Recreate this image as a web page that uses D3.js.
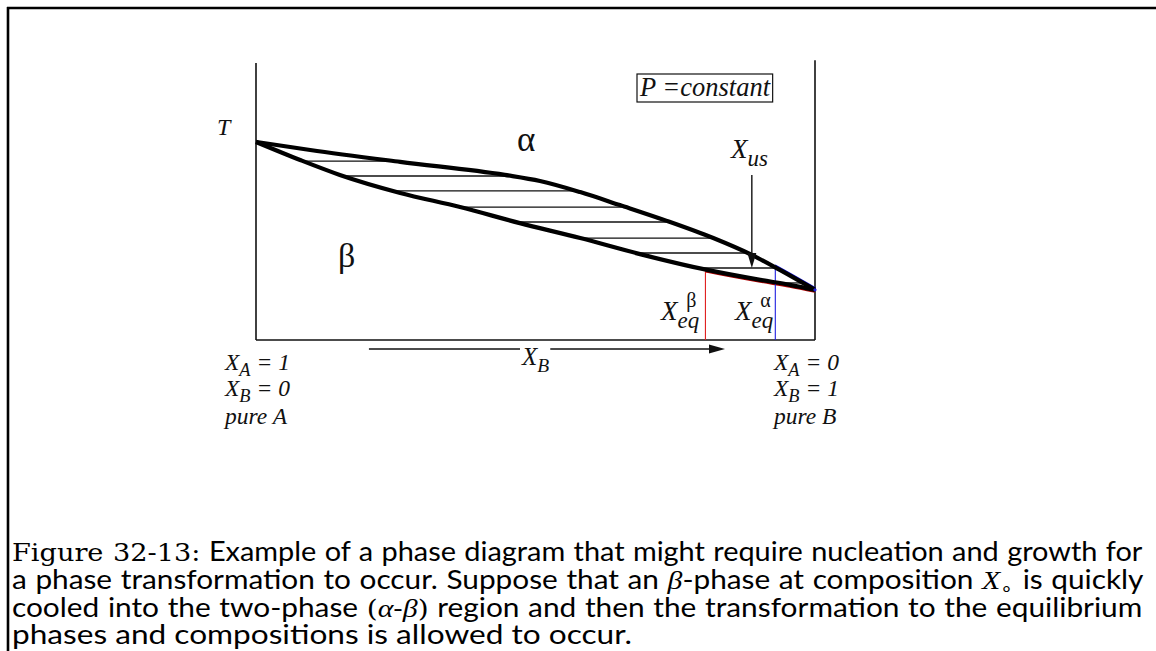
<!DOCTYPE html>
<html>
<head>
<meta charset="utf-8">
<script src="https://cdn.jsdelivr.net/npm/d3@7"></script>
<style>
  html, body { margin: 0; padding: 0; background: #fff; }
  svg { display: block; }
</style>
</head>
<body>
<svg id="fig" width="1156" height="651"></svg>
<script>
// ---- Phase diagram data: composition X_B (0 = pure A, 1 = pure B) vs temperature T (relative units) ----
const alphaBoundaryXB = [0, 0.097, 0.258, 0.445, 0.508, 0.580, 0.651, 0.735, 0.818, 0.887, 0.937, 1];
const alphaBoundaryT  = [71.5, 68.6, 64.3, 59.6, 57.4, 53.4, 48.7, 43.0, 36.8, 30.7, 25.3, 18.1];
const betaBoundaryXB  = [0, 0.079, 0.150, 0.258, 0.365, 0.472, 0.580, 0.687, 0.807, 0.902, 0.955, 1];
const betaBoundaryT   = [71.5, 65.0, 59.6, 53.1, 48.0, 42.2, 36.8, 31.0, 25.3, 21.7, 19.9, 18.1];

// Tie lines across the two-phase field
const tieLineT = [64.6, 59.2, 53.8, 48.0, 42.6, 36.8, 31.4, 26.0, 20.6];

// Quench composition and the equilibrium compositions at the quench temperature
const xUs = 0.887;
const xUsArrowFromT = 59.6;
const quenchT = 26.0;
const xEqBeta = 0.804;
const xEqAlpha = 0.929;

// Composition arrow along the X_B axis
const xbArrowFrom = 0.202;
const xbArrowTo = 0.839;

// End-member labels
const leftEndLabels  = [["X", "A", " = 1"], ["X", "B", " = 0"], ["pure A", "", ""]];
const rightEndLabels = [["X", "A", " = 0"], ["X", "B", " = 1"], ["pure B", "", ""]];

// Caption lines (segments: [text, style])
const captionLines = [
  [["Figure 32-13:", "rm"], [" Example of a phase diagram that might require nucleation and growth for", "sf"]],
  [["a phase transformation to occur. Suppose that an ", "sf"], ["β", "mi"], ["-phase at composition ", "sf"], ["X", "mi"], ["∘", "sub"], [" is quickly", "sf"]],
  [["cooled into the two-phase ", "sf"], ["(", "rm"], ["α", "mi"], ["-", "rm"], ["β", "mi"], [")", "rm"], [" region and then the transformation to the equilibrium", "sf"]],
  [["phases and compositions is allowed to occur.", "sf"]]
];

// ---- Drawing ----
const W = 1156, H = 651;
const svg = d3.select("#fig");
const serif = "'Liberation Serif', 'Times New Roman', serif";
const romanWide = "'DejaVu Serif', 'Liberation Serif', serif";
const sans = "Lato, 'Open Sans', 'DejaVu Sans', sans-serif";

const x = d3.scaleLinear().domain([0, 1]).range([256, 815]);
const y = d3.scaleLinear().domain([0, 100]).range([340, 63]);

// Page frame
svg.append("line").attr("x1", 7).attr("x2", W).attr("y1", 8).attr("y2", 8)
  .attr("stroke", "#000").attr("stroke-width", 2.6);
svg.append("line").attr("x1", 8).attr("x2", 8).attr("y1", 7).attr("y2", H)
  .attr("stroke", "#000").attr("stroke-width", 2.6);

// Diagram box (left, right, bottom)
const axes = svg.append("g").attr("stroke", "#111").attr("stroke-width", 1.6).attr("fill", "none");
axes.append("line").attr("x1", x(0)).attr("x2", x(0)).attr("y1", y(0)).attr("y2", y(100));
axes.append("line").attr("x1", x(1)).attr("x2", x(1)).attr("y1", y(0)).attr("y2", y(101));
axes.append("line").attr("x1", x(0)).attr("x2", x(1)).attr("y1", y(0)).attr("y2", y(0));

const alphaPts = alphaBoundaryXB.map((v, i) => [v, alphaBoundaryT[i]]);
const betaPts = betaBoundaryXB.map((v, i) => [v, betaBoundaryT[i]]);
const lineGen = d3.line().x(d => x(d[0])).y(d => y(d[1])).curve(d3.curveMonotoneX);

// Sample a path to find its x at a given pixel y
function sampler(pathNode) {
  const L = pathNode.getTotalLength();
  const pts = [];
  for (let s = 0; s <= L; s += 0.5) pts.push(pathNode.getPointAtLength(s));
  return function (py) {
    for (let i = 1; i < pts.length; i++) {
      const a = pts[i - 1], b = pts[i];
      if ((a.y - py) * (b.y - py) <= 0 && a.y !== b.y) {
        return a.x + (py - a.y) / (b.y - a.y) * (b.x - a.x);
      }
    }
    return null;
  };
}

// Coloured rims near the B-rich end (drawn under the black boundaries)
const defs = svg.append("defs");
defs.append("clipPath").attr("id", "clipBeta").append("rect")
  .attr("x", x(xEqBeta)).attr("y", 0).attr("width", x(1) - x(xEqBeta) + 4).attr("height", H);
defs.append("clipPath").attr("id", "clipAlpha").append("rect")
  .attr("x", x(xEqAlpha)).attr("y", 0).attr("width", x(1) - x(xEqAlpha) + 4).attr("height", H);
svg.append("path").attr("d", lineGen(betaPts)).attr("fill", "none")
  .attr("stroke", "#b00000").attr("stroke-width", 3).attr("transform", "translate(0,1.4)")
  .attr("clip-path", "url(#clipBeta)");
svg.append("path").attr("d", lineGen(alphaPts)).attr("fill", "none")
  .attr("stroke", "#1010d0").attr("stroke-width", 3).attr("transform", "translate(0,-1.4)")
  .attr("clip-path", "url(#clipAlpha)");

// Tie lines, between the two boundaries
const alphaPath = svg.append("path").attr("d", lineGen(alphaPts)).attr("fill", "none")
  .attr("stroke", "none");
const betaPath = svg.append("path").attr("d", lineGen(betaPts)).attr("fill", "none")
  .attr("stroke", "none");
const onAlpha = sampler(alphaPath.node());
const onBeta = sampler(betaPath.node());
svg.append("g").selectAll("line").data(tieLineT).join("line")
  .attr("x1", d => onBeta(y(d))).attr("x2", d => onAlpha(y(d)))
  .attr("y1", d => y(d)).attr("y2", d => y(d))
  .attr("stroke", "#111").attr("stroke-width", 1.3);

// Equilibrium composition markers
svg.append("line").attr("x1", x(xEqBeta)).attr("x2", x(xEqBeta))
  .attr("y1", y(quenchT)).attr("y2", y(0))
  .attr("stroke", "#e02020").attr("stroke-width", 1.1);
svg.append("line").attr("x1", x(xEqAlpha)).attr("x2", x(xEqAlpha))
  .attr("y1", y(quenchT)).attr("y2", y(0))
  .attr("stroke", "#2020e0").attr("stroke-width", 1.1);

// Phase boundaries
alphaPath.attr("stroke", "#000").attr("stroke-width", 4.2).attr("stroke-linejoin", "round");
betaPath.attr("stroke", "#000").attr("stroke-width", 4.2).attr("stroke-linejoin", "round");
alphaPath.raise(); betaPath.raise();
svg.append("circle").attr("cx", x(1)).attr("cy", y(alphaBoundaryT[alphaBoundaryT.length - 1]))
  .attr("r", 1.6).attr("fill", "#2020e0");

// Quench arrow at X_us
const ax = x(xUs), tipY = y(quenchT);
svg.append("line").attr("x1", ax).attr("x2", ax).attr("y1", y(xUsArrowFromT)).attr("y2", tipY - 10)
  .attr("stroke", "#111").attr("stroke-width", 1.4);
svg.append("path").attr("d", `M${ax},${tipY} L${ax - 4.5},${tipY - 15} L${ax + 4.5},${tipY - 15} Z`)
  .attr("fill", "#111");

// ---- Labels ----
function mathLabel(g, px, py, base, sub, rest, size, opts = {}) {
  const t = g.append("text").attr("x", px).attr("y", py)
    .attr("font-family", serif).attr("font-style", "italic").attr("font-size", size).attr("fill", "#111");
  t.append("tspan").text(base);
  if (sub) {
    t.append("tspan").attr("dy", opts.subDy || 7).attr("font-size", size * (opts.subScale || 0.78)).text(sub);
    if (rest) t.append("tspan").attr("dy", -(opts.subDy || 7)).text(rest);
  } else if (rest) {
    t.append("tspan").text(rest);
  }
  return t;
}

const lab = svg.append("g");

// T axis label
lab.append("text").attr("x", 217).attr("y", 135).attr("font-family", serif)
  .attr("font-style", "italic").attr("font-size", 24).attr("fill", "#111").text("T");

// Phase field labels
lab.append("text").attr("x", 517).attr("y", 151).attr("font-family", serif)
  .attr("font-size", 35).attr("fill", "#111").text("α");
lab.append("text").attr("x", 338).attr("y", 267).attr("font-family", serif)
  .attr("font-size", 34).attr("fill", "#111").text("β");

// P = constant box
const pText = lab.append("text").attr("x", 640).attr("y", 96).attr("font-family", serif)
  .attr("font-style", "italic").attr("font-size", 26.5).attr("fill", "#111").text("P =constant");
const pb = pText.node().getBBox();
lab.insert("rect", "text").attr("x", pb.x - 2).attr("y", 74).attr("width", pb.width + 4).attr("height", 28)
  .attr("fill", "#fff").attr("stroke", "#111").attr("stroke-width", 1.2);

// X_us label
mathLabel(lab, 731, 158, "X", "us", "", 27, { subDy: 8, subScale: 0.85 });

// Equilibrium composition labels, masking the marker lines behind them
function eqLabel(px, sup) {
  const g = lab.append("g");
  const bg = g.append("rect").attr("fill", "#fff");
  const t = mathLabel(g, px, 320, "X", "eq", "", 27, { subDy: 8, subScale: 0.85 });
  const bb = t.node().getBBox();
  const s = g.append("text").attr("x", bb.x + bb.width - 13).attr("y", 307)
    .attr("font-family", serif).attr("font-size", 20).attr("fill", "#111").text(sup);
  const sb = s.node().getBBox();
  const x0 = Math.min(bb.x, sb.x), x1 = Math.max(bb.x + bb.width, sb.x + sb.width);
  bg.attr("x", x0).attr("y", sb.y + 3).attr("width", x1 - x0).attr("height", bb.y + bb.height - sb.y - 8);
}
eqLabel(661, "β");
eqLabel(735, "α");

// X_B composition arrow with label
const arrowY = 349;
svg.append("line").attr("x1", x(xbArrowFrom)).attr("x2", x(xbArrowTo) - 12)
  .attr("y1", arrowY).attr("y2", arrowY).attr("stroke", "#111").attr("stroke-width", 1.5);
svg.append("path")
  .attr("d", `M${x(xbArrowTo)},${arrowY} L${x(xbArrowTo) - 16},${arrowY - 4.5} L${x(xbArrowTo) - 16},${arrowY + 4.5} Z`)
  .attr("fill", "#111");
const xbG = svg.append("g");
const xbBg = xbG.append("rect").attr("fill", "#fff");
const xbT = mathLabel(xbG, 522, 365, "X", "B", "", 25, { subDy: 7 });
const xbb = xbT.node().getBBox();
xbBg.attr("x", xbb.x - 1).attr("y", arrowY - 3).attr("width", xbb.width + 2).attr("height", 8);

// End-member labels
const rowY = [370, 396, 424];
leftEndLabels.forEach((r, i) => mathLabel(lab, 225, rowY[i], r[0], r[1], r[2], 23.5, { subDy: 6 }));
rightEndLabels.forEach((r, i) => mathLabel(lab, 774, rowY[i], r[0], r[1], r[2], 23.5, { subDy: 6 }));

// ---- Caption ----
const capX = 12, capRight = 1143, lastLineRight = 632;
const capY = [561, 589, 617, 644];
const capSize = 26;

function drawCaptionLine(segs, py, size) {
  const t = svg.append("text").attr("x", capX).attr("y", py).attr("font-size", size)
    .attr("fill", "#000").style("white-space", "pre");
  let shifted = 0;
  segs.forEach(([txt, kind]) => {
    const sp = t.append("tspan").text(txt);
    if (kind === "rm") sp.attr("font-family", romanWide).attr("font-size", size * 0.94);
    else if (kind === "mi") sp.attr("font-family", serif).attr("font-style", "italic");
    else if (kind === "sub") sp.attr("font-family", serif).attr("font-size", size * 0.7);
    else sp.attr("font-family", sans);
    if (kind === "sub") { sp.attr("dy", 5); shifted = 5; }
    else if (shifted) { sp.attr("dy", -shifted); shifted = 0; }
  });
  return t;
}

const capTexts = captionLines.map((segs, i) => drawCaptionLine(segs, capY[i], capSize));
const naturalLast = capTexts[3].node().getComputedTextLength();
const kBase = (lastLineRight - capX) / naturalLast;

capTexts.forEach((t, i) => {
  const segs = captionLines[i];
  const nat = t.node().getComputedTextLength();
  let k = kBase;
  if (i < capTexts.length - 1) {
    const spaces = segs.map(s => s[0]).join("").split(" ").length - 1;
    const target = capRight - capX;
    // keep a minimum inter-word gap; squeeze glyphs if the line is too long
    if (nat * k > target - spaces * 1.0) k = (target - spaces * 1.0) / nat;
    const extra = (target / k - nat) / spaces;
    t.style("word-spacing", extra + "px");
  }
  t.attr("transform", `translate(${capX * (1 - k)},0) scale(${k},1)`);
});
</script>
</body>
</html>
